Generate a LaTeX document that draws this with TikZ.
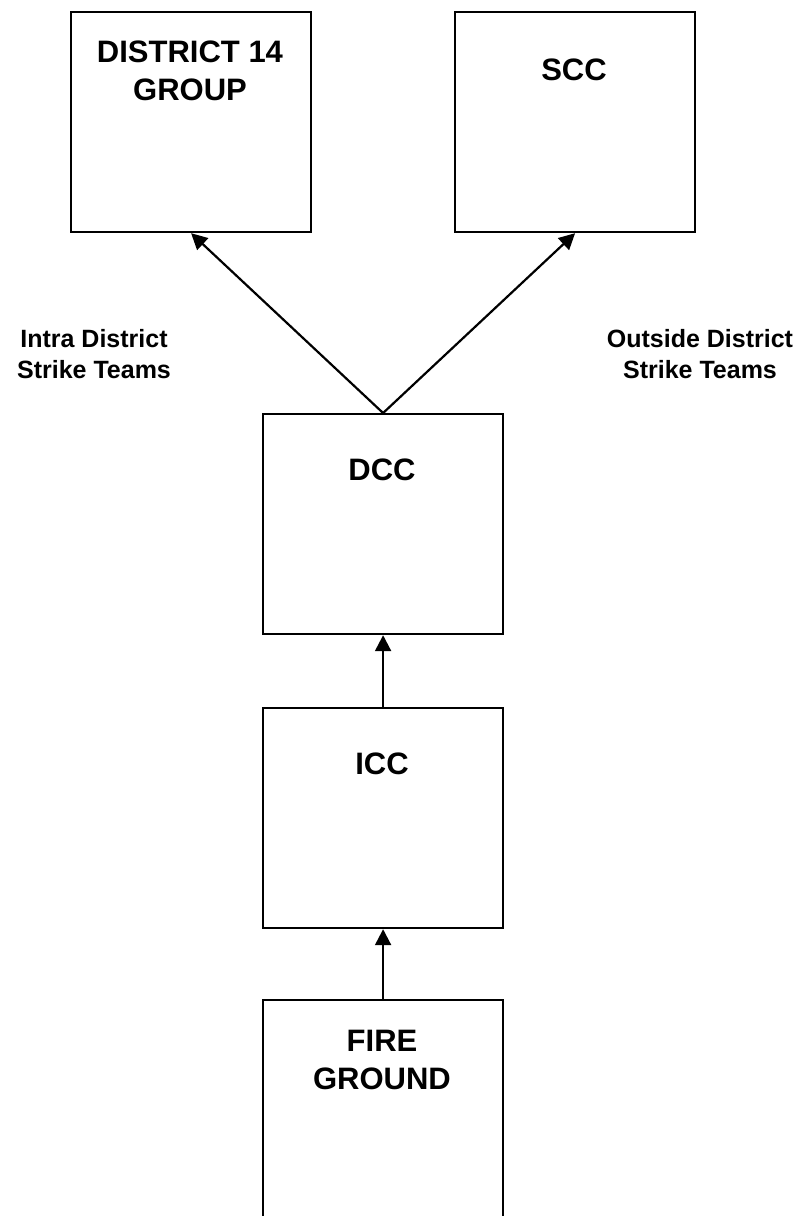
\documentclass[tikz,border=0pt]{standalone}
\usepackage{fontspec}
\setmainfont{Liberation Sans}
\usetikzlibrary{arrows.meta}
\begin{document}
\begin{tikzpicture}[x=1pt,y=-1pt,
  box/.style={draw,line width=2.2pt,minimum width=240pt,minimum height=220pt,inner sep=0pt,anchor=north west},
  title/.style={font=\fontsize{31}{38}\selectfont\bfseries,align=center,anchor=base,inner sep=0pt},
  lab/.style={font=\fontsize{25}{31}\selectfont\bfseries,align=center,anchor=base,inner sep=0pt},
  arr/.style={line width=2.2pt,-{Triangle[length=16pt,width=16pt]}}]
\useasboundingbox (0,0) rectangle (806,1216);
\clip (0,0) rectangle (806,1216);
\node[box] (dist) at (70,11) {};
\node[box] (scc) at (454,11) {};
\node[box] (dcc) at (262,413) {};
\node[box] (icc) at (262,707) {};
\node[box] (fire) at (262,999) {};
\node[title] (tdist) at (190,100) {DISTRICT 14\\GROUP};
\node[title] (tscc) at (574,80) {SCC};
\node[title] (tdcc) at (382,480) {DCC};
\node[title] (ticc) at (382,774) {ICC};
\node[title] (tfire) at (382,1089) {FIRE\\GROUND};
\node[lab] (lintra) at (94,378) {Intra District\\Strike Teams};
\node[lab] (lout) at (700,378) {Outside District\\Strike Teams};
\draw[arr] (dcc.north) -- (dist.south);
\draw[arr] (dcc.north) -- (scc.south);
\draw[arr] (icc.north) -- (dcc.south);
\draw[arr] (fire.north) -- (icc.south);
\end{tikzpicture}
\end{document}
